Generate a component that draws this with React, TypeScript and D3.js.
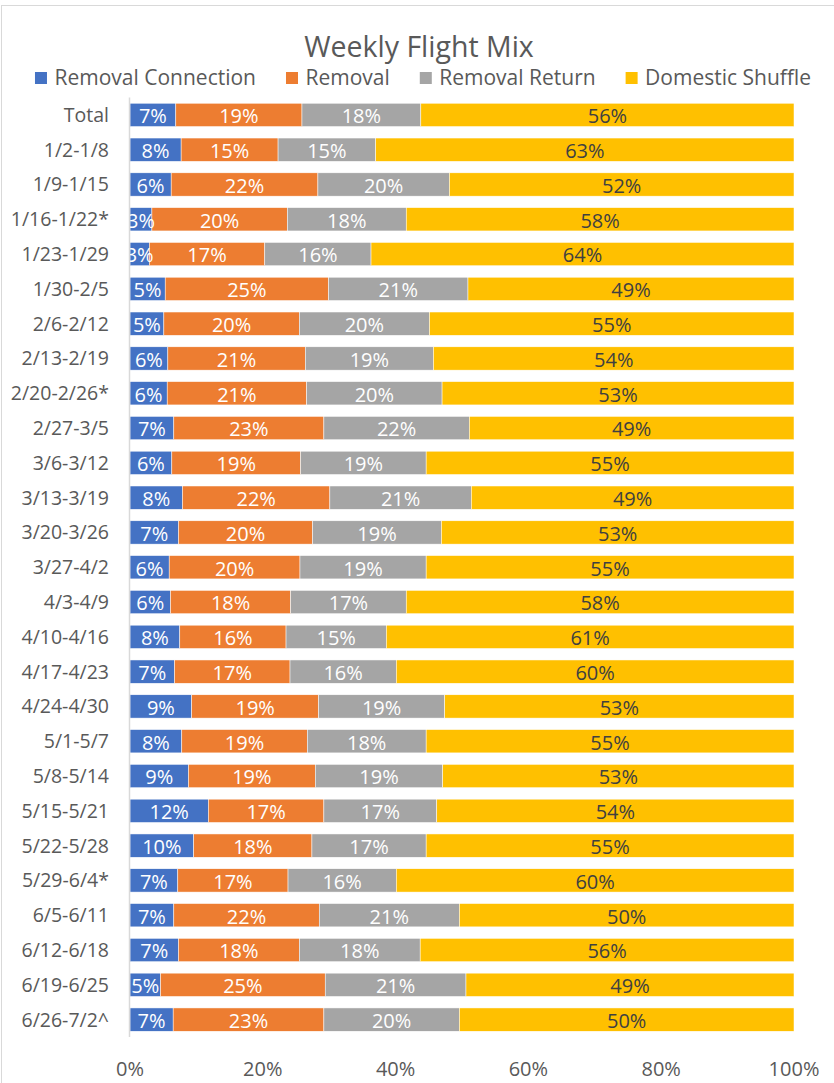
import React, { useEffect, useRef } from "react";
import * as d3 from "d3";

const title = "Weekly Flight Mix";
const seriesNames = ["Removal Connection", "Removal", "Removal Return", "Domestic Shuffle"];
const seriesColors = ["#4472C4", "#ED7D31", "#A5A5A5", "#FFC000"];
const labelColors = ["#FFFFFF", "#FFFFFF", "#FFFFFF", "#404040"];

const categories = [
  "Total", "1/2-1/8", "1/9-1/15", "1/16-1/22*", "1/23-1/29", "1/30-2/5", "2/6-2/12",
  "2/13-2/19", "2/20-2/26*", "2/27-3/5", "3/6-3/12", "3/13-3/19", "3/20-3/26", "3/27-4/2",
  "4/3-4/9", "4/10-4/16", "4/17-4/23", "4/24-4/30", "5/1-5/7", "5/8-5/14", "5/15-5/21",
  "5/22-5/28", "5/29-6/4*", "6/5-6/11", "6/12-6/18", "6/19-6/25", "6/26-7/2^",
];

const removalConnection = [6.9, 7.7, 6.2, 3.3, 2.9, 5.3, 5.1, 5.7, 5.6, 6.6, 6.3, 7.9, 7.3, 5.9, 6.1, 7.5, 6.7, 9.3, 7.8, 8.8, 11.8, 9.6, 7.2, 6.6, 7.3, 4.6, 6.5];
const removal = [19.0, 14.6, 22.1, 20.4, 17.4, 24.6, 20.4, 20.7, 21.0, 22.6, 19.4, 22.2, 20.2, 19.7, 18.1, 16.0, 17.4, 19.1, 18.9, 19.1, 17.4, 17.8, 16.6, 21.9, 18.2, 24.8, 22.7];
const removalReturn = [17.9, 14.7, 19.8, 17.9, 16.0, 21.0, 19.6, 19.3, 20.4, 21.9, 18.9, 21.3, 19.4, 19.0, 17.4, 15.1, 16.0, 19.0, 17.9, 19.2, 17.0, 17.2, 16.3, 21.1, 18.2, 21.2, 20.4];
const domesticShuffle = [56.2, 63.0, 51.9, 58.4, 63.7, 49.1, 54.9, 54.3, 53.0, 48.9, 55.4, 48.6, 53.1, 55.4, 58.4, 61.4, 59.9, 52.6, 55.4, 52.9, 53.8, 55.4, 59.9, 50.4, 56.3, 49.4, 50.4];

const xTicks = [0, 20, 40, 60, 80, 100];

const W = 834;
const H = 1083;
const FONT = "'Open Sans', sans-serif";
const TEXT = "#595959";

export default function App() {
  const ref = useRef<SVGSVGElement | null>(null);

  useEffect(() => {
    const svg = d3.select(ref.current);
    svg.selectAll("*").remove();

    const keys = ["rc", "r", "rr", "ds"];
    const rows = categories.map((c, i) => ({
      cat: c,
      rc: removalConnection[i],
      r: removal[i],
      rr: removalReturn[i],
      ds: domesticShuffle[i],
    }));
    const stacked = d3.stack<any>().keys(keys)(rows);

    const x = d3.scaleLinear().domain([0, 100]).range([130, 794]);
    const y = d3
      .scaleBand<string>()
      .domain(categories)
      .range([97.5, 1037])
      .paddingInner(0.33)
      .paddingOuter(0.165);

    // chart border
    svg
      .append("rect")
      .attr("x", 1.5)
      .attr("y", 5.5)
      .attr("width", W + 20)
      .attr("height", H + 20)
      .attr("fill", "#fff")
      .attr("stroke", "#d9d9d9")
      .attr("stroke-width", 1);

    // title
    svg
      .append("text")
      .attr("x", 419)
      .attr("y", 56.5)
      .attr("text-anchor", "middle")
      .attr("font-family", FONT)
      .attr("font-size", 28.5)
      .attr("fill", TEXT)
      .text(title);

    // legend
    const lg = svg.append("g");
    const items = lg.selectAll("g").data(seriesNames).join("g");
    items
      .append("rect")
      .attr("width", 12)
      .attr("height", 12)
      .attr("y", 72)
      .attr("fill", (_d, i) => seriesColors[i]);
    const ltexts = items
      .append("text")
      .attr("x", 19.5)
      .attr("y", 85)
      .attr("font-family", FONT)
      .attr("font-size", 21)
      .attr("fill", TEXT)
      .text((d) => d);
    const widths: number[] = [];
    ltexts.each(function () {
      widths.push((this as SVGTextElement).getComputedTextLength());
    });
    const itemW = widths.map((w) => 19.5 + w);
    const gap = 30;
    const total = d3.sum(itemW) + gap * (itemW.length - 1);
    let cx = 423 - total / 2;
    items.attr("transform", (_d, i) => {
      const t = `translate(${cx},0)`;
      cx += itemW[i] + gap;
      return t;
    });

    // clip for labels
    svg
      .append("clipPath")
      .attr("id", "plotclip")
      .append("rect")
      .attr("x", 130)
      .attr("y", 90)
      .attr("width", 670)
      .attr("height", 960);

    // bars
    const gBars = svg.append("g");
    stacked.forEach((layer, si) => {
      gBars
        .append("g")
        .attr("fill", seriesColors[si])
        .selectAll("rect")
        .data(layer)
        .join("rect")
        .attr("x", (d: any) => x(d[0]))
        .attr("width", (d: any) => x(d[1]) - x(d[0]))
        .attr("y", (d: any) => y(d.data.cat)!)
        .attr("height", y.bandwidth())
        .attr("stroke", "#ffffff")
        .attr("stroke-width", 0.5);
    });

    // data labels
    const gLab = svg.append("g").attr("clip-path", "url(#plotclip)");
    stacked.forEach((layer, si) => {
      const key = keys[si];
      gLab
        .append("g")
        .selectAll("text")
        .data(layer)
        .join("text")
        .attr("x", (d: any) => (x(d[0]) + x(d[1])) / 2)
        .attr("y", (d: any) => y(d.data.cat)! + y.bandwidth() / 2 + 8.3)
        .attr("text-anchor", "middle")
        .attr("font-family", FONT)
        .attr("font-size", 20)
        .attr("fill", labelColors[si])
        .text((d: any) => `${Math.round(d.data[key])}%`);
    });

    // category labels
    svg
      .append("g")
      .selectAll("text")
      .data(categories)
      .join("text")
      .attr("x", 109)
      .attr("y", (d) => y(d)! + y.bandwidth() / 2 + 7)
      .attr("text-anchor", "end")
      .attr("font-family", FONT)
      .attr("font-size", 19.5)
      .attr("fill", TEXT)
      .text((d) => d);

    // vertical axis line
    svg
      .append("line")
      .attr("x1", 129.5)
      .attr("x2", 129.5)
      .attr("y1", 97.5)
      .attr("y2", 1037)
      .attr("stroke", "#d9d9d9")
      .attr("stroke-width", 1.5);

    // x tick labels
    svg
      .append("g")
      .selectAll("text")
      .data(xTicks)
      .join("text")
      .attr("x", (d) => x(d))
      .attr("y", 1076)
      .attr("text-anchor", "middle")
      .attr("font-family", FONT)
      .attr("font-size", 20)
      .attr("fill", TEXT)
      .text((d) => `${d}%`);
  }, []);

  return (
    <svg
      ref={ref}
      width={W}
      height={H}
      style={{ position: "absolute", left: 0, top: 0, display: "block" }}
    />
  );
}
